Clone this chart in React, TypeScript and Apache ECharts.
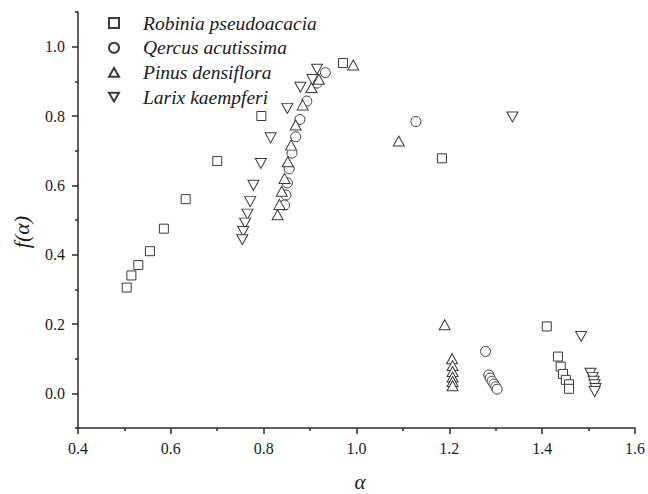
import React, { useEffect, useRef } from "react";
import * as echarts from "echarts";

const robiniaAlpha = [0.505, 0.515, 0.53, 0.555, 0.585, 0.632, 0.70, 0.795, 0.971, 1.184, 1.41, 1.434, 1.44, 1.445, 1.451, 1.458, 1.458];
const robiniaF = [0.305, 0.34, 0.37, 0.41, 0.475, 0.56, 0.67, 0.80, 0.953, 0.678, 0.193, 0.106, 0.077, 0.056, 0.039, 0.026, 0.013];

const qercusAlpha = [0.933, 0.915, 0.893, 0.878, 0.869, 0.861, 0.855, 0.851, 0.848, 0.845, 1.128, 1.278, 1.285, 1.288, 1.292, 1.296, 1.3, 1.303];
const qercusF = [0.925, 0.895, 0.843, 0.79, 0.74, 0.693, 0.648, 0.607, 0.572, 0.543, 0.784, 0.121, 0.053, 0.044, 0.035, 0.027, 0.019, 0.012];

const pinusAlpha = [0.993, 0.919, 0.903, 0.884, 0.869, 0.859, 0.852, 0.845, 0.839, 0.834, 0.83, 1.091, 1.19, 1.206, 1.207, 1.207, 1.207, 1.207, 1.207];
const pinusF = [0.947, 0.906, 0.882, 0.832, 0.774, 0.716, 0.668, 0.62, 0.583, 0.545, 0.515, 0.728, 0.198, 0.1, 0.08, 0.063, 0.047, 0.034, 0.022];

const larixAlpha = [0.915, 0.905, 0.879, 0.851, 0.815, 0.794, 0.778, 0.771, 0.765, 0.76, 0.756, 0.754, 1.336, 1.484, 1.504, 1.509, 1.511, 1.513, 1.515, 1.513];
const larixF = [0.935, 0.905, 0.883, 0.822, 0.737, 0.663, 0.6, 0.553, 0.517, 0.491, 0.467, 0.443, 0.797, 0.164, 0.058, 0.046, 0.035, 0.025, 0.014, 0.005];

const seriesNames = ["Robinia pseudoacacia", "Qercus acutissima", "Pinus densiflora", "Larix kaempferi"];
const yMajorTicks = [0, 0.2, 0.4, 0.6, 0.8, 1.0];
const yMinorTicks = [-0.1, 0.1, 0.3, 0.5, 0.7, 0.9, 1.1];

const INK = "#2a2a2a";
const SERIF = "'Liberation Serif', 'DejaVu Serif', serif";

function zip(a: number[], b: number[]) {
  return a.map((v, i) => [v, b[i]]);
}

export default function App() {
  const ref = useRef<HTMLDivElement>(null);
  useEffect(() => {
    if (!ref.current) return;
    const chart = echarts.init(ref.current, null, { renderer: "svg" });
    const markerStyle = { color: "#ffffff", borderColor: "#3a3a3a", borderWidth: 1, opacity: 1 };
    const downTri = "path://M0,0L10,0L5,8.66Z";
    const upTri = "path://M5,0L10,8.66L0,8.66Z";
    chart.setOption({
      animation: false,
      backgroundColor: "#ffffff",
      grid: { left: 78, right: 10, top: 12, bottom: 66, containLabel: false },
      legend: {
        orient: "vertical",
        left: 103,
        top: 7,
        itemWidth: 10,
        itemHeight: 10,
        itemGap: 2.7,
        selectedMode: false,
        data: seriesNames,
        textStyle: {
          fontFamily: SERIF,
          fontStyle: "italic",
          fontSize: 19.5,
          lineHeight: 22,
          color: "#1a1a1a",
          padding: [0, 0, 0, 19],
        },
      },
      xAxis: {
        type: "value",
        min: 0.4,
        max: 1.6,
        interval: 0.2,
        axisLine: { show: true, onZero: false, lineStyle: { color: INK, width: 1.5 } },
        axisTick: { show: true, length: 6, lineStyle: { color: INK, width: 1.5 } },
        minorTick: { show: true, splitNumber: 2, length: 3, lineStyle: { color: INK, width: 1.5 } },
        splitLine: { show: false },
        axisLabel: {
          margin: 12,
          fontFamily: SERIF,
          fontSize: 16,
          color: "#1a1a1a",
          formatter: (v: number) => v.toFixed(1),
        },
      },
      yAxis: [
        {
          type: "value",
          min: -0.1,
          max: 1.1,
          axisLine: { show: true, onZero: false, lineStyle: { color: INK, width: 1.5 } },
          axisTick: { show: true, length: 6, customValues: yMajorTicks, lineStyle: { color: INK, width: 1.5 } },
          splitLine: { show: false },
          axisLabel: {
            margin: 13,
            customValues: yMajorTicks,
            fontFamily: SERIF,
            fontSize: 16,
            color: "#1a1a1a",
            formatter: (v: number) => v.toFixed(1),
          },
        },
        {
          type: "value",
          position: "left",
          min: -0.1,
          max: 1.1,
          axisLine: { show: false },
          axisTick: { show: true, length: 3, customValues: yMinorTicks, lineStyle: { color: INK, width: 1.5 } },
          axisLabel: { show: false },
          splitLine: { show: false },
        },
      ],
      graphic: [
        {
          type: "text",
          x: 360,
          y: 482,
          style: {
            text: "α",
            fontFamily: SERIF,
            fontStyle: "italic",
            fontSize: 21,
            fill: "#1a1a1a",
            align: "center",
            verticalAlign: "middle",
          },
        },
        {
          type: "text",
          x: 21,
          y: 232,
          rotation: Math.PI / 2,
          style: {
            text: "f(α)",
            fontFamily: SERIF,
            fontStyle: "italic",
            fontSize: 22,
            fill: "#1a1a1a",
            align: "center",
            verticalAlign: "middle",
          },
        },
      ],
      series: [
        {
          name: seriesNames[0],
          type: "scatter",
          symbol: "rect",
          symbolSize: 9,
          itemStyle: markerStyle,
          data: zip(robiniaAlpha, robiniaF),
        },
        {
          name: seriesNames[1],
          type: "scatter",
          symbol: "circle",
          symbolSize: 10,
          itemStyle: markerStyle,
          data: zip(qercusAlpha, qercusF),
        },
        {
          name: seriesNames[2],
          type: "scatter",
          symbol: upTri,
          symbolSize: [11, 10],
          itemStyle: markerStyle,
          data: zip(pinusAlpha, pinusF),
        },
        {
          name: seriesNames[3],
          type: "scatter",
          symbol: downTri,
          symbolSize: [11, 10],
          itemStyle: markerStyle,
          data: zip(larixAlpha, larixF),
        },
      ],
    });
    return () => chart.dispose();
  }, []);
  return <div ref={ref} style={{ width: 648, height: 494, position: "absolute", left: 0, top: 0 }} />;
}
